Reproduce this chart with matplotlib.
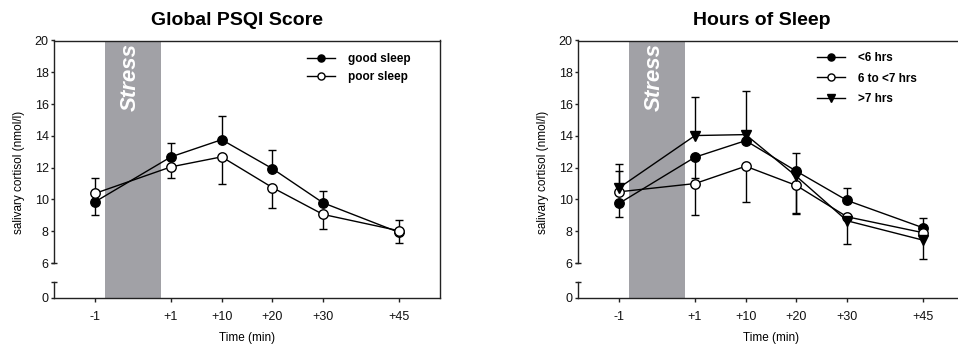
"""Salivary cortisol around a stress task, two panels"""

import numpy as np
from matplotlib import pyplot as plt

plt.rcParams["font.family"] = ["Liberation Sans", "DejaVu Sans"]

time_labels = ["-1", "+1", "+10", "+20", "+30", "+45"]
x_slots = [0, 1.5, 2.5, 3.5, 4.5, 6]  # category slots, uneven as in the original

# Global PSQI score panel
psqi_good = [9.85, 12.68, 13.76, 11.94, 9.79, 7.93]
psqi_good_lo = [0.83, 0, 0, 0, 0, 0.65]
psqi_good_hi = [0, 0.84, 1.49, 1.20, 0.77, 0]
psqi_poor = [10.38, 12.05, 12.68, 10.75, 9.06, 8.03]
psqi_poor_lo = [0, 0.73, 1.68, 1.28, 0.90, 0]
psqi_poor_hi = [0.94, 0, 0, 0, 0, 0.67]

# Hours of sleep panel
hrs_lt6 = [9.75, 12.66, 13.70, 11.78, 9.94, 8.22]
hrs_lt6_lo = [0.84, 1.30, 0, 0, 0, 0]
hrs_lt6_hi = [0, 0, 0, 1.15, 0.75, 0.60]
hrs_6to7 = [10.48, 11.00, 12.09, 10.88, 8.91, 7.91]
hrs_6to7_lo = [0, 2.00, 2.23, 1.71, 0, 0]
hrs_6to7_hi = [1.30, 0, 0, 0, 0, 0]
hrs_gt7 = [10.73, 14.02, 14.08, 11.46, 8.66, 7.44]
hrs_gt7_lo = [0, 0, 0, 2.40, 1.48, 1.16]
hrs_gt7_hi = [1.53, 2.43, 2.76, 0, 0, 0]

y_ticks = [0, 6, 8, 10, 12, 14, 16, 18, 20]
stress_span = (0.2, 1.3)
AX_COLOR = "#222222"


def forward(v):
    v = np.asarray(v, dtype=float)
    return np.where(v >= 6, v, np.where(v >= 1, 4.8 + (v - 1) * 0.24, v + 3.8))


def inverse(u):
    u = np.asarray(u, dtype=float)
    return np.where(u >= 6, u, np.where(u >= 4.8, 1 + (u - 4.8) / 0.24, u - 3.8))


def draw_errors(ax, x, y, lo, hi):
    x, y, lo, hi = map(np.asarray, (x, y, lo, hi))
    for mask, ends in ((lo > 0, y - lo), (hi > 0, y + hi)):
        ax.vlines(x[mask], y[mask], ends[mask], color="k", lw=1.0, zorder=2)
        ax.plot(x[mask], ends[mask], ls="none", marker="_", ms=6.3,
                mew=1.0, color="k", zorder=2)


def draw_series(ax, y, lo, hi, marker, face, label):
    draw_errors(ax, x_slots, y, lo, hi)
    (line,) = ax.plot(x_slots, y, color="k", lw=1.0, marker=marker, ms=6.8,
                      mfc=face, mec="k", mew=1.0, zorder=3, label=label)
    return line


def setup_axes(ax, title):
    ax.set_yscale("function", functions=(forward, inverse))
    ax.set_ylim(0, 20)
    ax.set_xlim(-0.82, 6.81)
    ax.axvspan(*stress_span, color="#a1a1a6", lw=0, zorder=1)
    ax.text(0.7, 19.85, "Stress", rotation=90, ha="center", va="top",
            color="white", fontsize=16, fontweight="bold",
            fontstyle="italic", zorder=1.5)
    for side in ("left", "bottom", "top", "right"):
        ax.spines[side].set_color(AX_COLOR)
        ax.spines[side].set_linewidth(1.0)
    ax.spines["left"].set_bounds(6, 20)
    # lower piece of the broken y axis
    yax = ax.get_yaxis_transform()
    ax.plot([0, 0], [0, 1], color=AX_COLOR, lw=1.0, transform=yax,
            clip_on=False)
    ax.plot([0, 0], [1, 6], ls="none", marker="_", ms=4.6, mew=1.0,
            color=AX_COLOR, transform=yax, clip_on=False)
    ax.set_yticks(y_ticks)
    ax.set_yticklabels([str(t) for t in y_ticks])
    ax.yaxis.set_minor_locator(plt.NullLocator())
    ax.set_xticks(x_slots)
    ax.set_xticklabels(time_labels)
    ax.tick_params(axis="y", length=2.5, width=1.0, pad=1, labelsize=9,
                   color=AX_COLOR, labelcolor="#111111")
    ax.tick_params(axis="x", length=3, width=1.0, pad=6, labelsize=9,
                   color=AX_COLOR, labelcolor="#111111")
    ax.set_title(title, fontsize=14, fontweight="bold", x=0.476, pad=11)
    ax.set_xlabel("Time (min)", fontsize=8.5, labelpad=7)
    ax.set_ylabel("salivary cortisol (nmol/l)", fontsize=8.5)
    ax.yaxis.set_label_coords(-0.075, 0.487)


def main():
    fig = plt.figure(figsize=(9.58, 3.54), dpi=100)
    ax1 = fig.add_axes([53.5 / 958, 56 / 354, 386.5 / 958, 257.5 / 354])
    ax2 = fig.add_axes([577.5 / 958, 56 / 354, 386.5 / 958, 257.5 / 354])

    setup_axes(ax1, "Global PSQI Score")
    h1 = [
        draw_series(ax1, psqi_good, psqi_good_lo, psqi_good_hi, "o", "k",
                    "good sleep"),
        draw_series(ax1, psqi_poor, psqi_poor_lo, psqi_poor_hi, "o", "white",
                    "poor sleep"),
    ]
    ax1.legend(handles=h1, loc="upper left", bbox_to_anchor=(0.656, 0.950),
               frameon=False, borderpad=0, borderaxespad=0, handlelength=2.4,
               handletextpad=1.1, labelspacing=0.45, markerscale=0.75,
               prop={"size": 8.5, "weight": "bold"})

    setup_axes(ax2, "Hours of Sleep")
    h2 = [
        draw_series(ax2, hrs_lt6, hrs_lt6_lo, hrs_lt6_hi, "o", "k", "<6 hrs"),
        draw_series(ax2, hrs_6to7, hrs_6to7_lo, hrs_6to7_hi, "o", "white",
                    "6 to <7 hrs"),
        draw_series(ax2, hrs_gt7, hrs_gt7_lo, hrs_gt7_hi, "v", "k", ">7 hrs"),
    ]
    ax2.legend(handles=h2, loc="upper left", bbox_to_anchor=(0.62, 0.954),
               frameon=False, borderpad=0, borderaxespad=0, handlelength=2.4,
               handletextpad=1.1, labelspacing=0.7, markerscale=0.75,
               prop={"size": 8.5, "weight": "bold"})

    fig.savefig("out.png", dpi=100)


if __name__ == "__main__":
    main()
